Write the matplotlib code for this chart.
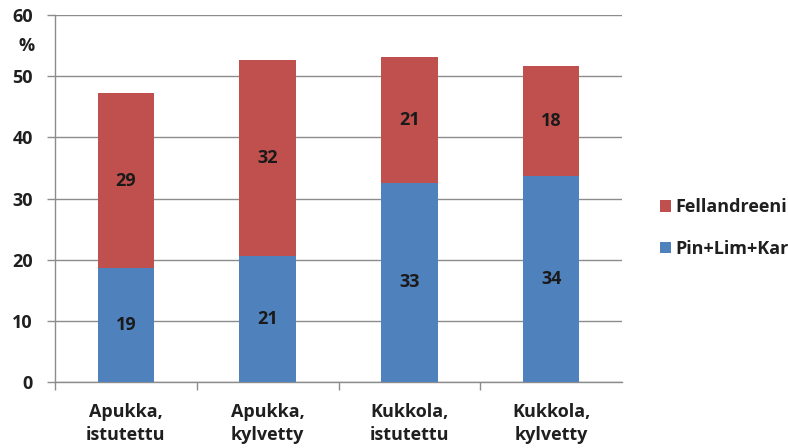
import matplotlib
matplotlib.use("Agg")
import matplotlib.pyplot as plt
import numpy as np

categories = ["Apukka,\nistutettu", "Apukka,\nkylvetty", "Kukkola,\nistutettu", "Kukkola,\nkylvetty"]
pin_lim_kar = [18.6, 20.6, 32.6, 33.6]
fellandreeni = [28.6, 32.0, 20.6, 18.0]
series_names = ["Pin+Lim+Kar", "Fellandreeni"]
colors = ["#4F81BD", "#C0504D"]

plt.rcParams['font.family'] = ['Open Sans', 'DejaVu Sans']
plt.rcParams['font.weight'] = 'bold'
FS = 13

fig = plt.figure(figsize=(7.88, 4.48), dpi=100)
ax = fig.add_axes([55/788, 1-382/448, (622-55)/788, (382-15)/448])

x = np.arange(len(categories))
w = 0.4
b1 = ax.bar(x, pin_lim_kar, w, color=colors[0], label=series_names[0], zorder=3)
b2 = ax.bar(x, fellandreeni, w, bottom=pin_lim_kar, color=colors[1], label=series_names[1], zorder=3)

for rect, v in zip(b1, pin_lim_kar):
    ax.text(rect.get_x() + rect.get_width()/2, rect.get_y() + rect.get_height()/2, f"{v:.0f}",
            ha='center', va='center', fontsize=FS, fontweight='bold', color='#1a1a1a', zorder=4)
for rect, v in zip(b2, fellandreeni):
    ax.text(rect.get_x() + rect.get_width()/2, rect.get_y() + rect.get_height()/2, f"{v:.0f}",
            ha='center', va='center', fontsize=FS, fontweight='bold', color='#1a1a1a', zorder=4)

ax.set_xlim(-0.5, 3.5)
ax.set_ylim(0, 60)
ax.set_yticks(np.arange(0, 61, 10))
ax.yaxis.grid(True, color='#8c8c8c', linewidth=1.0, zorder=0)
ax.set_axisbelow(True)

ax.set_xticks(x)
ax.set_xticklabels(categories, fontsize=FS, fontweight='bold', color='#1f1f1f', linespacing=1.35)
ax.set_xticks(np.arange(-0.5, 3.6, 1.0)[:-1], minor=True)
ax.tick_params(axis='x', which='major', length=0, pad=15)
ax.tick_params(axis='x', which='minor', length=6, color='#8c8c8c', width=1)
ax.tick_params(axis='y', length=6, color='#8c8c8c', width=1, labelsize=FS, labelcolor='#1f1f1f', pad=10)
for lab in ax.get_yticklabels():
    lab.set_fontweight('bold')

for s in ['top', 'right']:
    ax.spines[s].set_visible(False)
for s in ['left', 'bottom']:
    ax.spines[s].set_color('#8c8c8c')
    ax.spines[s].set_linewidth(1.0)

ax.text(-20/567, 0.915, "%", transform=ax.transAxes, ha='right', va='center',
        fontsize=FS, fontweight='bold', color='#1f1f1f')

handles, labels = ax.get_legend_handles_labels()
leg = fig.legend(handles[::-1], labels[::-1], loc='center left', bbox_to_anchor=(644/788, 1-228/448),
                 frameon=False, fontsize=FS, handlelength=0.6, handleheight=0.6,
                 labelspacing=1.3, handletextpad=0.25)
for t in leg.get_texts():
    t.set_fontweight('bold')
    t.set_color('#1f1f1f')

fig.savefig("out.png", dpi=100)
